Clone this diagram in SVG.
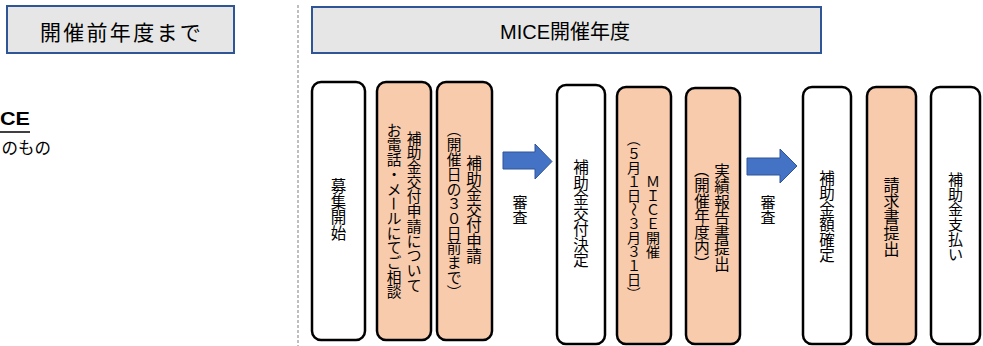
<svg xmlns="http://www.w3.org/2000/svg" width="983" height="346" viewBox="0 0 983 346">
<style>
.hdr{fill:#e7e6e6;stroke:#2f5597;stroke-width:2}
.hdrt{font-family:"Liberation Sans","Noto Sans CJK JP",sans-serif;fill:#000;text-anchor:middle;dominant-baseline:central}
.col{stroke:#000;stroke-width:2.5}
.w{fill:#fff}
.o{fill:#f8cbad}
.v{font-family:"Noto Sans CJK JP",sans-serif;fill:#000}
.arr{fill:#4472c4;stroke:#2f5597;stroke-width:1}
</style>
<rect width="983" height="346" fill="#fff"/>
<g id="header-left">
<rect class="hdr" x="7" y="6" width="227" height="47"/>
<text class="hdrt" x="121.5" y="32" font-size="21" letter-spacing="2.3" font-family="Noto Sans CJK JP,sans-serif">開催前年度まで</text>
</g>
<g id="header-right">
<rect class="hdr" x="312" y="7" width="509" height="46"/>
<text class="hdrt" x="565" y="32" font-size="20">MICE開催年度</text>
</g>
<g id="left-note">
<text x="0" y="125" font-family="Liberation Sans,Noto Sans CJK JP,sans-serif" font-size="18" font-weight="bold" textLength="30" lengthAdjust="spacingAndGlyphs">CE</text>
<line x1="0" y1="132" x2="30" y2="132" stroke="#000" stroke-width="1.5"/>
<text x="51" y="147" font-family="Noto Sans CJK JP,sans-serif" font-size="16.5" text-anchor="end" dominant-baseline="central">のもの</text>
</g>
<line id="divider" x1="298" y1="5" x2="298" y2="346" stroke="#7f7f7f" stroke-width="1" stroke-dasharray="3,2"/>
<g id="n1">
<rect class="col w" x="312" y="82" width="53" height="258" rx="9"/>
<text class="v" font-size="15.5" x="330.75 330.75 330.75 330.75" y="192.1 207.6 223.1 238.6">募集開始</text>
</g>
<g id="n2">
<rect class="col o" x="377" y="82" width="54" height="258" rx="9"/>
<text class="v" font-size="14.7" x="406.65 406.65 406.65 406.65 406.65 406.65 406.65 406.65 406.65 406.65 406.65" y="143.6 158.3 173.0 187.7 202.4 217.1 231.8 246.5 261.2 275.9 290.6">補助金交付申請について</text>
<text class="v" font-size="14.7" x="386.65 386.65 386.65 386.65 386.65 388.41 386.65 386.65 386.65 386.65 386.65 386.65" y="135.74 150.44 165.14 179.84 194.54 196.3 223.94 238.64 253.34 268.04 282.74 297.44" rotate="0 0 0 0 0 90 0 0 0 0 0 0">お電話・メールにてご相談</text>
</g>
<g id="n3">
<rect class="col o" x="437" y="82" width="55" height="258" rx="9"/>
<text class="v" font-size="15.5" x="466.25 466.25 466.25 466.25 466.25 466.25 466.25" y="169.4 184.9 200.4 215.9 231.4 246.9 262.4">補助金交付申請</text>
<text class="v" font-size="14.7" x="448.41 446.65 446.65 446.65 446.65 446.65 446.65 446.65 446.65 446.65 446.65 448.41" y="122.8 150.44 165.14 179.84 194.54 209.24 223.94 238.64 253.34 268.04 282.74 284.5" rotate="90 0 0 0 0 0 0 0 0 0 0 90">（開催日の３０日前まで）</text>
</g>
<g id="n4">
<rect class="col w" x="557" y="85" width="48" height="259" rx="9"/>
<text class="v" font-size="15.5" x="573.25 573.25 573.25 573.25 573.25 573.25 573.25" y="173.4 188.9 204.4 219.9 235.4 250.9 266.4">補助金交付決定</text>
</g>
<g id="n5">
<rect class="col o" x="617" y="87" width="54" height="257" rx="9"/>
<text class="v" font-size="14" x="646 646 646 646 646 646" y="187.3 201.3 215.3 229.3 243.3 257.3">ＭＩＣＥ開催</text>
<text class="v" font-size="14" x="628.68 627 627 627 627 628.68 627 627 627 627 627 628.68" y="132.5 158.8 172.8 186.8 200.8 202.5 228.8 242.8 256.8 270.8 284.8 286.5" rotate="90 0 0 0 0 90 0 0 0 0 0 90">（５月１日～３月３１日）</text>
</g>
<g id="n6">
<rect class="col o" x="686" y="88" width="54" height="256" rx="9"/>
<text class="v" font-size="15.5" x="714.25 714.25 714.25 714.25 714.25 714.25 714.25" y="176.9 192.4 207.9 223.4 238.9 254.4 269.9">実績報告書提出</text>
<text class="v" font-size="15.5" x="696.11 694.25 694.25 694.25 694.25 694.25 696.11" y="162.25 191.4 206.9 222.4 237.9 253.4 255.25" rotate="90 0 0 0 0 0 90">（開催年度内）</text>
</g>
<g id="n7">
<rect class="col w" x="803" y="87" width="48" height="257" rx="9"/>
<text class="v" font-size="15.5" x="819.25 819.25 819.25 819.25 819.25 819.25" y="183.64 199.14 214.64 230.14 245.64 261.14">補助金額確定</text>
</g>
<g id="n8">
<rect class="col o" x="867" y="87" width="49" height="257" rx="9"/>
<text class="v" font-size="16" x="883.5 883.5 883.5 883.5 883.5" y="191.1 207.1 223.1 239.1 255.1">請求書提出</text>
</g>
<g id="n9">
<rect class="col w" x="931" y="87" width="49" height="257" rx="9"/>
<text class="v" font-size="15" x="948 948 948 948 948 948" y="185.2 200.2 215.2 230.2 245.2 260.2">補助金支払い</text>
</g>
<g id="connectors">
<polygon class="arr" points="503,152 535,152 535,144 552,161.5 535,179 535,169 503,169"/>
<text class="v" font-size="15" x="512.5 512.5" y="208.2 223.2">審査</text>
<polygon class="arr" points="747,158 780,158 780,149 797,166 780,183 780,175 747,175"/>
<text class="v" font-size="15" x="760.5 760.5" y="208.2 223.2">審査</text>
</g>
</svg>
